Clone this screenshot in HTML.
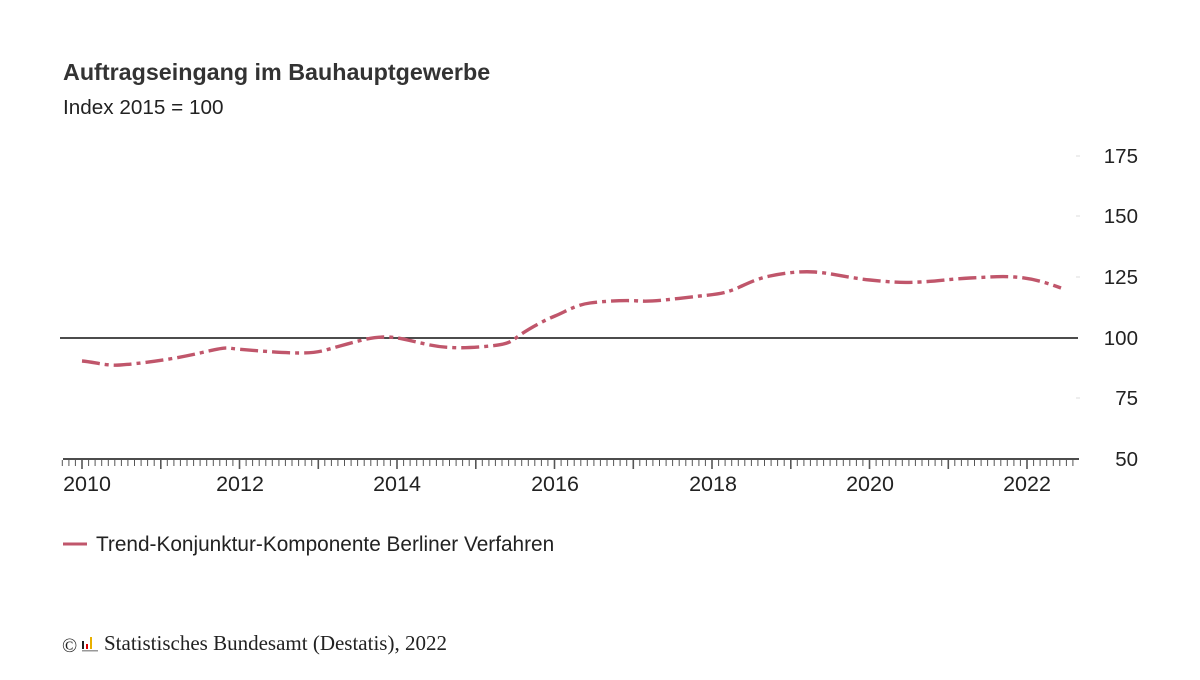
<!DOCTYPE html>
<html><head><meta charset="utf-8"><style>
body{margin:0;background:#fff;width:1200px;height:675px;overflow:hidden;font-family:"Liberation Sans",sans-serif;color:#222}
</style></head><body>
<svg width="1200" height="675" xmlns="http://www.w3.org/2000/svg" font-family="Liberation Sans, sans-serif">
<text x="63" y="80" font-size="23.3" font-weight="bold" fill="#333">Auftragseingang im Bauhauptgewerbe</text>
<text x="63" y="114" font-size="20.7" fill="#222">Index 2015 = 100</text>
<g font-size="20.5" fill="#222" text-anchor="end">
<text x="1138" y="163">175</text><text x="1138" y="223">150</text><text x="1138" y="284">125</text>
<text x="1138" y="345">100</text><text x="1138" y="405">75</text><text x="1138" y="466">50</text>
</g>
<g stroke="#ddd" stroke-width="1">
<line x1="1076" x2="1080" y1="156" y2="156"/><line x1="1076" x2="1080" y1="216" y2="216"/>
<line x1="1076" x2="1080" y1="277" y2="277"/><line x1="1076" x2="1080" y1="398" y2="398"/>
</g>
<line x1="60" x2="1078" y1="338" y2="338" stroke="#111" stroke-width="1.6"/>
<line x1="63" x2="1079" y1="459" y2="459" stroke="#333" stroke-width="1.8"/>
<g id="ticks" stroke="#555" stroke-width="1"></g>
<g font-size="21.5" fill="#222" text-anchor="middle">
<text x="87" y="491">2010</text><text x="240" y="491">2012</text><text x="397" y="491">2014</text>
<text x="555" y="491">2016</text><text x="713" y="491">2018</text><text x="870" y="491">2020</text><text x="1027" y="491">2022</text>
</g>
<path d="M82,361 C95,362 105,366 120,365 S170,360 200,353 S225,348 237,349 S280,353 300,353 S325,350 340,346 S370,337 385,337 S410,341 430,345 S470,348 490,346 S510,342 520,335 S545,320 555,316 S575,305 590,303 S625,300 640,301 S680,298 700,296 S725,293 735,289 S755,279 770,276 S800,271 815,272 S850,278 870,280 S900,283 920,282 S950,279 970,278 S1000,276 1015,277 S1045,282 1061,288" fill="none" stroke="#c0566b" stroke-width="3.4" stroke-dasharray="18,5,4,5"/>
<line x1="63" x2="87" y1="544" y2="544" stroke="#c0566b" stroke-width="3"/>
<text x="96" y="551" font-size="20.8" fill="#222">Trend-Konjunktur-Komponente Berliner Verfahren</text>
<text x="62" y="652" font-size="20" font-family="Liberation Serif, serif" fill="#222">©</text>
<rect x="82" y="641" width="2" height="8" fill="#222"/><rect x="86" y="644" width="2" height="5" fill="#d00"/><rect x="90" y="637" width="2" height="12" fill="#e8b000"/><rect x="82" y="650" width="16" height="1.5" fill="#999"/>
<text x="104" y="650" font-size="21" font-family="Liberation Serif, serif" fill="#222">Statistisches Bundesamt (Destatis), 2022</text>
</svg>
<script>
var g=document.getElementById('ticks'),s='';
for(var i=-3;i<=151;i++){var x=82+i*78.75/12;if(x>1078)break;var m=(i%12===0);s+='<line x1="'+x.toFixed(1)+'" x2="'+x.toFixed(1)+'" y1="460" y2="'+(m?469:466)+'" stroke-width="'+(m?1.6:1)+'"/>';}
g.innerHTML=s;
</script>
</body></html>
